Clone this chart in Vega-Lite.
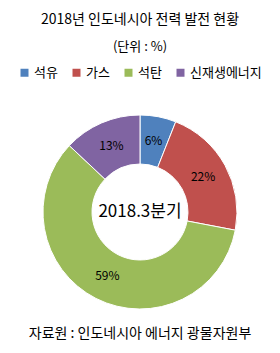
{
  "$schema": "https://vega.github.io/schema/vega-lite/v6.json",
  "padding": {"top": 13, "left": 0, "right": 0, "bottom": 0},
  "background": "white",
  "title": {
    "text": "2018년 인도네시아 전력 발전 현황",
    "subtitle": "(단위 : %)",
    "anchor": "middle",
    "fontSize": 14,
    "fontWeight": "normal",
    "color": "#000000",
    "subtitleFontSize": 13,
    "subtitleColor": "#000000",
    "subtitlePadding": 14,
    "font": "Noto Sans CJK KR",
    "subtitleFont": "Noto Sans CJK KR",
    "offset": 12
  },
  "vconcat": [
    {
      "width": 280,
      "height": 200,
      "title": {
        "text": "자료원 : 인도네시아 에너지 광물자원부",
        "orient": "bottom",
        "anchor": "middle",
        "fontSize": 14,
        "fontWeight": "normal",
        "color": "#000000",
        "font": "Noto Sans CJK KR",
        "offset": 15
      },
      "data": {
        "values": [
          {"source": "석유", "value": 6, "label": "6%", "rank": 1},
          {"source": "가스", "value": 22, "label": "22%", "rank": 2},
          {"source": "석탄", "value": 59, "label": "59%", "rank": 3},
          {"source": "신재생에너지", "value": 13, "label": "13%", "rank": 4}
        ]
      },
      "encoding": {
        "theta": {"field": "value", "type": "quantitative", "stack": true},
        "order": {"field": "rank", "type": "quantitative"}
      },
      "layer": [
        {
          "mark": {"type": "arc", "outerRadius": 97, "innerRadius": 48, "stroke": "white", "strokeWidth": 1},
          "encoding": {
            "color": {
              "field": "source",
              "type": "nominal",
              "scale": {
                "domain": ["석유", "가스", "석탄", "신재생에너지"],
                "range": ["#4F81BD", "#C0504D", "#9BBB59", "#8064A2"]
              },
              "legend": {
                "orient": "none",
                "legendX": 18,
                "legendY": -46,
                "direction": "horizontal",
                "title": null,
                "symbolType": "square",
                "symbolSize": 64,
                "symbolStrokeWidth": 0,
                "labelFontSize": 13,
                "labelFont": "Noto Sans CJK KR",
                "labelColor": "#000000",
                "columnPadding": 12,
                "labelOffset": 3
              }
            }
          }
        },
        {
          "mark": {"type": "text", "radius": 72, "fontSize": 12, "font": "Noto Sans CJK KR", "color": "#000000"},
          "encoding": {
            "text": {"field": "label", "type": "nominal"}
          }
        },
        {
          "data": {"values": [{"center": "2018.3분기"}]},
          "mark": {"type": "text", "fontSize": 17, "font": "Noto Sans CJK KR", "color": "#000000"},
          "encoding": {
            "text": {"field": "center", "type": "nominal"},
            "theta": null,
            "order": null
          }
        }
      ]
    }
  ],
  "config": {
    "view": {"stroke": null},
    "font": "Noto Sans CJK KR"
  }
}
